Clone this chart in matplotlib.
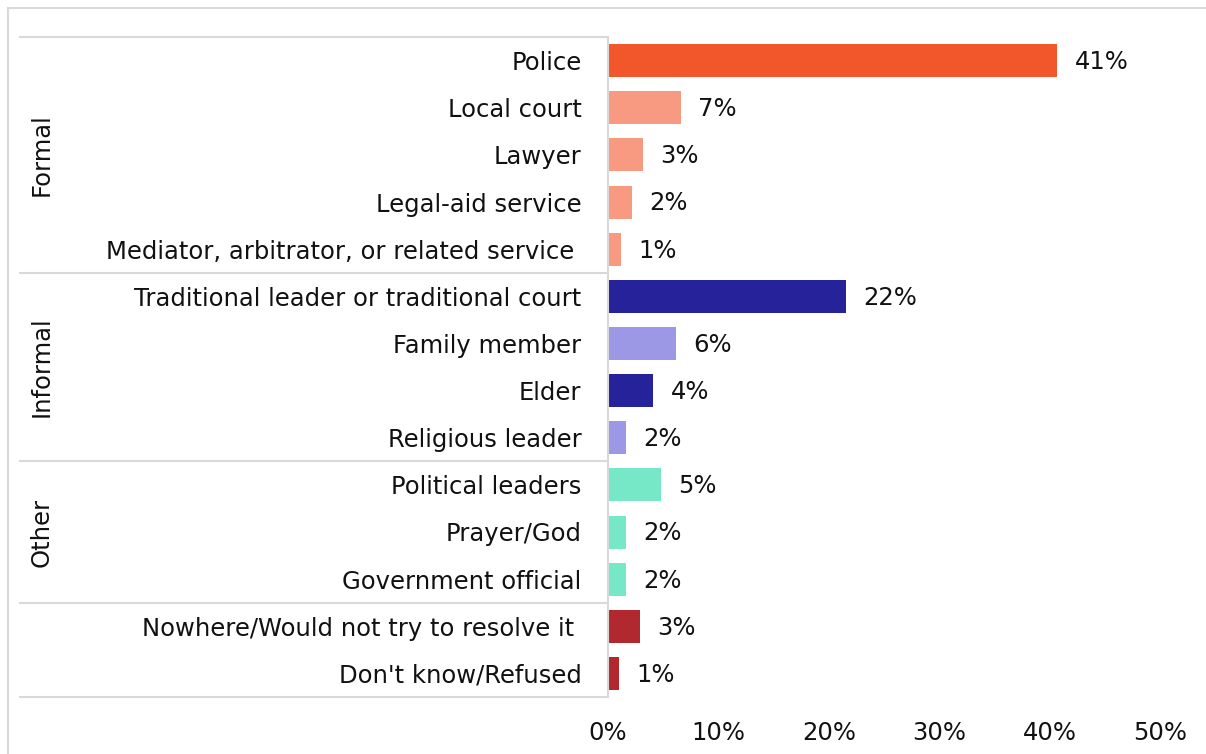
import matplotlib
matplotlib.use("Agg")
import matplotlib.pyplot as plt
from matplotlib.lines import Line2D
from matplotlib.transforms import blended_transform_factory

# Where people would go to resolve a dispute (share of respondents, %)
categories = [
    "Police", "Local court", "Lawyer", "Legal-aid service",
    "Mediator, arbitrator, or related service ",
    "Traditional leader or traditional court", "Family member", "Elder",
    "Religious leader",
    "Political leaders", "Prayer/God", "Government official",
    "Nowhere/Would not try to resolve it ", "Don't know/Refused",
]
values = [40.7, 6.6, 3.2, 2.2, 1.2, 21.6, 6.2, 4.1, 1.6, 4.8, 1.6, 1.6, 2.9, 1.0]
bar_colors = [
    "#F2562B", "#F79A81", "#F79A81", "#F79A81", "#F79A81",
    "#26239A", "#9D98E6", "#26239A", "#9D98E6",
    "#76E8C8", "#76E8C8", "#76E8C8",
    "#B2282F", "#B2282F",
]
groups = ["Formal", "Informal", "Other", ""]
group_sizes = [5, 4, 3, 2]
x_ticks = [0, 10, 20, 30, 40, 50]

FONT = "DejaVu Sans"
FS = 17.5
TXT = "#111111"
GRID = "#d9d9d9"

fig = plt.figure(figsize=(12.06, 7.54), dpi=100)
W, H = 1206, 754
ax = fig.add_axes([608 / W, 1 - 697 / H, (1160 - 608) / W, (697 - 37) / H])

ypos = list(range(len(categories)))
ax.barh(ypos, values, height=0.7, color=bar_colors, zorder=2)

for y, v in zip(ypos, values):
    ax.text(v + 1.55, y + 0.03, f"{v:.0f}%", va="center", ha="left",
            fontsize=FS, family=FONT, color=TXT)

ax.set_xlim(0, 50)
ax.set_ylim(len(categories) - 0.5, -0.5)
ax.set_xticks(x_ticks)
ax.set_xticklabels([f"{t}%" for t in x_ticks], fontsize=FS, family=FONT, color=TXT)
ax.set_yticks(ypos)
ax.set_yticklabels(categories, fontsize=FS, family=FONT, color=TXT)
ax.tick_params(axis="both", length=0)
ax.tick_params(axis="y", pad=19)
ax.tick_params(axis="x", pad=17)

for s in ["top", "right", "bottom"]:
    ax.spines[s].set_visible(False)
ax.spines["left"].set_color(GRID)
ax.spines["left"].set_linewidth(1.5)

# Group separators and group labels to the left of the category names
trans = blended_transform_factory(ax.transAxes, ax.transData)
x_start = (20 - 608) / (1160 - 608)
bounds = [-0.5]
for n in group_sizes:
    bounds.append(bounds[-1] + n)
for b in bounds:
    ax.add_line(Line2D([x_start, 0], [b, b], transform=trans, color=GRID,
                       linewidth=1.5, clip_on=False))
x_label = (42 - 608) / (1160 - 608)
for name, lo, hi in zip(groups, bounds[:-1], bounds[1:]):
    if name:
        ax.text(x_label, (lo + hi) / 2, name, rotation=90, ha="center", va="center",
                transform=trans, fontsize=FS, family=FONT, color=TXT)

# Outer frame
fig.add_artist(Line2D([8 / W, 8 / W], [0, 1 - 8 / H], color=GRID, linewidth=1.5))
fig.add_artist(Line2D([8 / W, 1], [1 - 8 / H, 1 - 8 / H], color=GRID, linewidth=1.5))

fig.savefig("out.png", dpi=100, facecolor="white")
